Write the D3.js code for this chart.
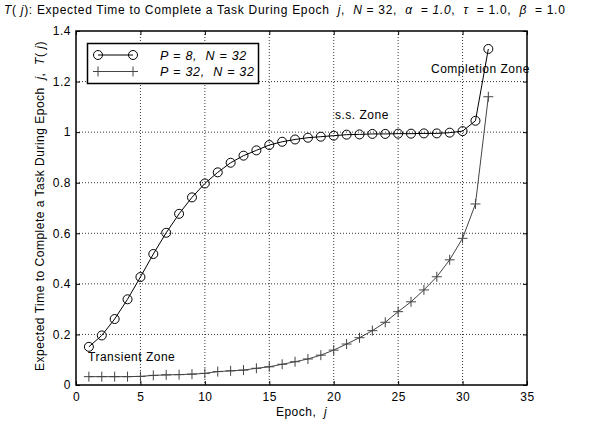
<!DOCTYPE html>
<html>
<head>
<meta charset="utf-8">
<script src="https://cdn.jsdelivr.net/npm/d3@7"></script>
<style>
body{margin:0;background:#fff;}
text{font-family:"Liberation Sans",Arial,sans-serif;fill:#000;white-space:pre;letter-spacing:0.5px;}
</style>
</head>
<body>
<svg width="605" height="423"></svg>
<script>
const epochs = d3.range(1, 33);
const p8 = [0.151,0.196,0.261,0.339,0.427,0.518,0.602,0.677,0.742,0.797,0.841,0.879,0.907,0.928,0.949,0.962,
  0.971,0.978,0.982,0.986,0.990,0.991,0.993,0.993,0.994,0.994,0.995,0.995,0.998,1.004,1.045,1.329];
const p32 = [0.033,0.033,0.033,0.033,0.034,0.038,0.040,0.041,0.043,0.046,0.053,0.056,0.059,0.066,0.072,0.082,
  0.092,0.103,0.118,0.138,0.162,0.187,0.215,0.248,0.290,0.329,0.376,0.428,0.495,0.580,0.716,1.140];
const xTicks = [0,5,10,15,20,25,30,35];
const yTicks = [0,0.2,0.4,0.6,0.8,1,1.2,1.4];

const svg = d3.select("svg");
const pL=76,pR=527,pT=31,pB=385;
const x = d3.scaleLinear().domain([0,35]).range([pL,pR]);
const y = d3.scaleLinear().domain([0,1.4]).range([pB,pT]);

// grid
svg.append("g").selectAll("line").data(xTicks.slice(1,-1)).enter().append("line")
  .attr("x1",d=>x(d)).attr("x2",d=>x(d)).attr("y1",pT).attr("y2",pB)
  .attr("stroke","#000").attr("stroke-width",0.8).attr("stroke-dasharray","1,2");
svg.append("g").selectAll("line").data(yTicks.slice(1,-1)).enter().append("line")
  .attr("x1",pL).attr("x2",pR).attr("y1",d=>y(d)).attr("y2",d=>y(d))
  .attr("stroke","#000").attr("stroke-width",0.8).attr("stroke-dasharray","1,2");

// axes
svg.append("g").attr("transform",`translate(0,${pB})`)
  .call(d3.axisBottom(x).tickValues(xTicks).tickSize(-4).tickPadding(7).tickFormat(d3.format("d")))
  .call(g=>g.select(".domain").remove())
  .selectAll("text").style("font-size","12px").style("font-family","Liberation Sans");
svg.append("g").attr("transform",`translate(${pL},0)`)
  .call(d3.axisLeft(y).tickValues(yTicks).tickSize(-4).tickPadding(5).tickFormat(d=>String(+d.toFixed(1))))
  .call(g=>g.select(".domain").remove())
  .selectAll("text").style("font-size","12px").style("font-family","Liberation Sans");
svg.append("g").attr("transform",`translate(0,${pT})`)
  .call(d3.axisTop(x).tickValues(xTicks).tickSize(-4).tickFormat(""))
  .call(g=>g.select(".domain").remove());
svg.append("g").attr("transform",`translate(${pR},0)`)
  .call(d3.axisRight(y).tickValues(yTicks).tickSize(-4).tickFormat(""))
  .call(g=>g.select(".domain").remove());
svg.append("rect").attr("x",pL).attr("y",pT).attr("width",pR-pL).attr("height",pB-pT)
  .attr("fill","none").attr("stroke","#000").attr("stroke-width",1.5);

const line = d3.line().x((d,i)=>x(epochs[i])).y(d=>y(d));

// P=32 series (plus)
svg.append("path").datum(p32).attr("d",line).attr("fill","none").attr("stroke","#444").attr("stroke-width",1);
svg.append("g").selectAll("path").data(p32).enter().append("path")
  .attr("d",(d,i)=>{const cx=x(epochs[i]),cy=y(d);return `M${cx-5},${cy}H${cx+5}M${cx},${cy-5}V${cy+5}`;})
  .attr("stroke","#444").attr("stroke-width",1);

// P=8 series (circles)
svg.append("path").datum(p8).attr("d",line).attr("fill","none").attr("stroke","#000").attr("stroke-width",1);
svg.append("g").selectAll("circle").data(p8).enter().append("circle")
  .attr("cx",(d,i)=>x(epochs[i])).attr("cy",d=>y(d)).attr("r",4.5)
  .attr("fill","none").attr("stroke","#000").attr("stroke-width",1);

// annotations
svg.append("text").attr("x",88).attr("y",361).style("font-size","12px").text("Transient Zone");
svg.append("text").attr("x",335).attr("y",119).style("font-size","12px").text("s.s. Zone");
svg.append("text").attr("x",431).attr("y",73).style("font-size","12px").text("Completion Zone");

// legend
const lg = svg.append("g");
lg.append("rect").attr("x",87.5).attr("y",43.5).attr("width",171).attr("height",40)
  .attr("fill","#fff").attr("stroke","#000").attr("stroke-width",1.5);
lg.append("line").attr("x1",98).attr("x2",133).attr("y1",55).attr("y2",55).attr("stroke","#000");
lg.selectAll("circle").data([98,133]).enter().append("circle").attr("cx",d=>d).attr("cy",55).attr("r",4.5)
  .attr("fill","none").attr("stroke","#000");
lg.append("line").attr("x1",98).attr("x2",133).attr("y1",71.5).attr("y2",71.5).attr("stroke","#444");
[98,133].forEach(cx=>lg.append("path").attr("d",`M${cx-5},71.5H${cx+5}M${cx},66.5V76.5`).attr("stroke","#444"));
const legTexts=[["8",59.5],["32",75.5]];
legTexts.forEach(([p,yy])=>{
  const t=lg.append("text").attr("x",160).attr("y",yy).style("font-size","12.5px").style("letter-spacing","0.7px");
  t.append("tspan").style("font-style","italic").text("P");
  t.append("tspan").text(" = ");
  t.append("tspan").style("font-style","italic").text(p+",  N = 32");
});

// title
const tt = svg.append("text").attr("x",4).attr("y",14).style("font-size","12px").style("letter-spacing","0.7px");
tt.append("tspan").style("font-style","italic").text("T");
tt.append("tspan").text("( ");
tt.append("tspan").style("font-style","italic").text("j");
tt.append("tspan").text("): Expected Time to Complete a Task During Epoch  ");
tt.append("tspan").style("font-style","italic").text("j");
tt.append("tspan").text(",  ");
tt.append("tspan").style("font-style","italic").text("N");
tt.append("tspan").text(" = 32,  ");
tt.append("tspan").style("font-style","italic").text("α  = 1.0");
tt.append("tspan").text(",  ");
tt.append("tspan").style("font-style","italic").text("τ");
tt.append("tspan").text("  = 1.0,  ");
tt.append("tspan").style("font-style","italic").text("β");
tt.append("tspan").text("  = 1.0");

// axis labels
const xl = svg.append("text").attr("x",x(17.5)).attr("y",416).attr("text-anchor","middle").style("font-size","12px");
xl.append("tspan").text("Epoch,  ");
xl.append("tspan").style("font-style","italic").text("j");

const yl = svg.append("text").attr("transform",`translate(44,${(pT+pB)/2-2}) rotate(-90)`)
  .attr("text-anchor","middle").style("font-size","12px");
yl.append("tspan").text("Expected Time to Complete a Task During Epoch  ");
yl.append("tspan").style("font-style","italic").text("j");
yl.append("tspan").text(",  ");
yl.append("tspan").style("font-style","italic").text("T");
yl.append("tspan").text("( ");
yl.append("tspan").style("font-style","italic").text("j");
yl.append("tspan").text(")");
</script>
</body>
</html>
